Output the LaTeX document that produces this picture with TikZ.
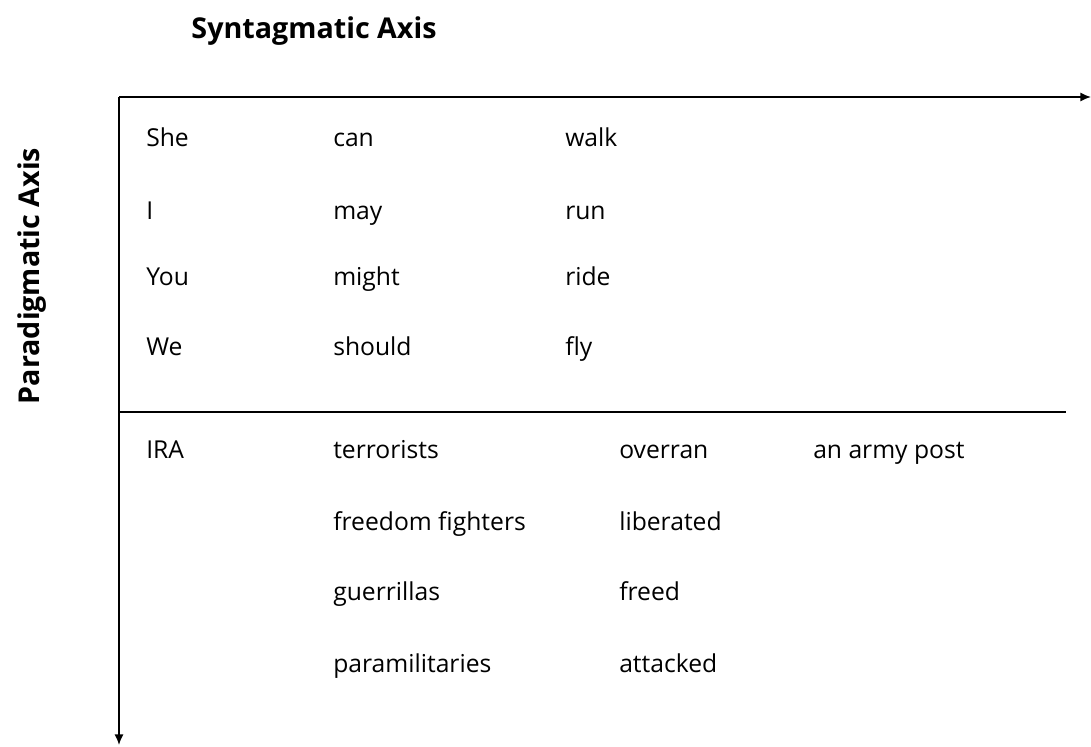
\documentclass[tikz,border=0pt]{standalone}
\usepackage{fontspec}
\setmainfont{Open Sans}
\usetikzlibrary{arrows.meta}

\begin{document}
\begin{tikzpicture}[x=0.75pt,y=-0.75pt]

	\tikzset{word/.style={anchor=base west,inner sep=0pt,font=\fontsize{18.5}{22}\selectfont},
		axisname/.style={inner sep=0pt,font=\bfseries\fontsize{21.5}{26}\selectfont},
		axis/.style={line width=1.4pt,-{Latex[length=8pt,width=7pt]}}}

	\useasboundingbox (0,0) rectangle (1091,746);

	% axes

	\coordinate (origin) at (119,97);
	\coordinate (xend) at (1091,97);
	\coordinate (yend) at (119,745);
	\draw[axis] (origin) -- (xend);
	\draw[axis] (origin) -- (yend);

	\node[axisname] (synt) at (314,31) {Syntagmatic Axis};
	\node[axisname,rotate=90] (para) at (32,276) {Paradigmatic Axis};

	% upper examples

	\foreach \n/\a/\b/\c/\y in {1/She/can/walk/146, 2/I/may/run/219, 3/You/might/ride/285, 4/We/should/fly/355} {
		\node[word] (subj\n) at (146,\y) {\a};
		\node[word] (modal\n) at (333,\y) {\b};
		\node[word] (verb\n) at (565,\y) {\c};
	}

	% divider

	\coordinate (divl) at (119,412);
	\coordinate (divr) at (1066,412);
	\draw[line width=1.4pt] (divl) -- (divr);

	% lower examples

	\node[word] (ira) at (146,458) {IRA};
	\node[word] (post) at (813,458) {an army post};

	\foreach \n/\b/\c/\y in {1/terrorists/overran/458, 2/freedom fighters/liberated/530, 3/guerrillas/freed/600, 4/paramilitaries/attacked/672} {
		\node[word] (noun\n) at (333,\y) {\b};
		\node[word] (act\n) at (619,\y) {\c};
	}

\end{tikzpicture}
\end{document}
